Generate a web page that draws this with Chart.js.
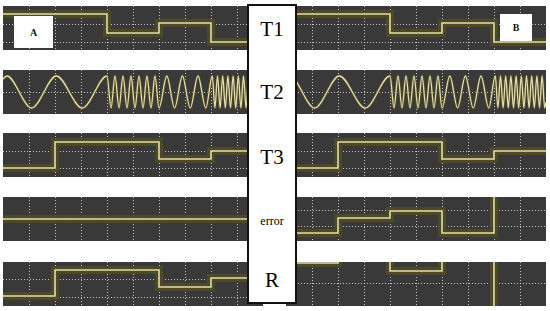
<!DOCTYPE html>
<html>
<head>
<meta charset="utf-8">
<script src="https://cdn.jsdelivr.net/npm/chart.js@4.4.1/dist/chart.umd.min.js"></script>
<style>
  body { margin:0; background:#fff; }
  #wrap { position:relative; width:550px; height:311px; overflow:hidden; }
  .panel { position:absolute; }
  .lab { position:absolute; left:247px; top:4px; width:46px; height:296px; background:#fff; border:2px solid #111; z-index:5; }
  .lab div { position:absolute; width:100%; text-align:center; font-family:"Liberation Serif", serif; color:#000; }
  .tag { position:absolute; background:#fff; z-index:5; font-family:"Liberation Serif", serif; font-weight:bold; font-size:10px; color:#111; display:flex; align-items:center; justify-content:center; }
</style>
</head>
<body>
<div id="wrap">
  <div class="lab">
    <div style="top:11px;font-size:21px">T1</div>
    <div style="top:74px;font-size:21px">T2</div>
    <div style="top:139px;font-size:21px">T3</div>
    <div style="top:208px;font-size:12px">error</div>
    <div style="top:262px;font-size:21px">R</div>
  </div>
  <div class="tag" style="left:14px;top:16px;width:39px;height:32px">A</div>
  <div class="tag" style="left:500px;top:14px;width:32px;height:27px">B</div>
</div>
<script>
// time axis: 10 divisions per screen
// step traces: edges (divisions) and levels (0 = bottom of strip, 44 = top)
const t1Edges = [0, 4, 6, 8, 10];
const t1Levels = [36, 17, 27, 8];

const t3Edges = [0, 2, 6, 8, 10];
const t3Levels = [9, 35, 18, 26];

const errAEdges = [0, 10];
const errALevels = [22];
const errBEdges = [0, 2, 4, 6, 8, 10];
const errBLevels = [8, 23, 30, 8, 60];

const rAEdges = [0, 2, 6, 8, 10];
const rALevels = [10, 36, 19, 28];
const rBEdges = [0, 2, 4, 6, 8, 10];
const rBLevels = [43, 60, 35, 60, -20];

// T2 sine: start value, then turning points (peak / trough alternating)
const t2Start = 35;
const t2Peak = 38;
const t2Trough = 6;
const t2TurnX = [0.15, 1.1, 2.05, 3.05, 4.0,
  4.154, 4.308, 4.462, 4.615, 4.769, 4.923, 5.077, 5.231, 5.385, 5.538, 5.692, 5.846, 6.0,
  6.3, 6.6, 6.9, 7.2, 7.5, 7.8,
  8.05, 8.15, 8.25, 8.35, 8.45, 8.55, 8.65, 8.75, 8.85, 8.95, 9.05, 9.15, 9.25, 9.35, 9.45, 9.55, 9.65, 9.75, 9.85, 9.95];
const t2End = 10;

// dotted horizontal graticule values per strip
const gridA = [[26, 8], [22], [26, 9], [22], [27, 9]];
const gridB = [[26, 8], [22], [26, 9], [30.5, 14.5], [23]];

const rowTops = [6, 70, 133, 197, 262];
const rowH = 44;
const sideX = [3, 286];
const sideW = 260;

const traceColor = '#e2dbb0';
const ghostColor = 'rgba(78,74,36,0.95)';

function stepPoints(edges, levels) {
  const pts = [];
  levels.forEach((v, i) => pts.push({ x: edges[i], y: v }));
  pts.push({ x: edges[edges.length - 1], y: levels[levels.length - 1] });
  return pts;
}

function sinePoints() {
  const pts = [{ x: 0, y: t2Start }];
  t2TurnX.forEach((x, i) => pts.push({ x: x, y: i % 2 === 0 ? t2Peak : t2Trough }));
  pts.push({ x: t2End, y: t2Trough + 6 });
  return pts;
}

const bgPlugin = {
  id: 'screen',
  beforeDraw(chart) {
    const c = chart.ctx;
    c.save();
    c.fillStyle = '#393939';
    c.fillRect(0, 0, chart.width, chart.height);
    c.restore();
  }
};

function makePanel(left, top, pts, grid, smooth) {
  const box = document.createElement('div');
  box.className = 'panel';
  box.style.left = left + 'px';
  box.style.top = top + 'px';
  const cv = document.createElement('canvas');
  cv.width = sideW; cv.height = rowH;
  cv.style.width = sideW + 'px'; cv.style.height = rowH + 'px';
  box.appendChild(cv);
  document.getElementById('wrap').appendChild(box);

  const common = {
    data: pts, pointRadius: 0, fill: false,
    stepped: smooth ? false : 'before',
    cubicInterpolationMode: smooth ? 'monotone' : 'default'
  };
  new Chart(cv, {
    type: 'line',
    data: {
      datasets: [
        Object.assign({}, common, { borderColor: traceColor, borderWidth: smooth ? 1.3 : 1.6, order: 0 }),
        Object.assign({}, common, { borderColor: ghostColor, borderWidth: smooth ? 3 : 8, order: 1 })
      ]
    },
    options: {
      responsive: false, animation: false, events: [],
      layout: { padding: 0 },
      plugins: { legend: { display: false }, tooltip: { enabled: false } },
      scales: {
        x: {
          type: 'linear', min: 0, max: 10,
          afterBuildTicks: s => { s.ticks = [1, 2, 3, 4, 5, 6, 7, 8, 9].map(v => ({ value: v })); },
          ticks: { display: false },
          grid: { color: 'rgba(220,220,220,0.85)', drawTicks: false, lineWidth: 1 },
          border: { display: false, dash: [1, 2] }
        },
        y: {
          min: 0, max: rowH,
          afterBuildTicks: s => { s.ticks = grid.map(v => ({ value: v })); },
          ticks: { display: false },
          grid: { color: 'rgba(220,220,220,0.85)', drawTicks: false, lineWidth: 1 },
          border: { display: false, dash: [1, 2] }
        }
      }
    },
    plugins: [bgPlugin]
  });
}

const traceA = [stepPoints(t1Edges, t1Levels), sinePoints(), stepPoints(t3Edges, t3Levels),
  stepPoints(errAEdges, errALevels), stepPoints(rAEdges, rALevels)];
const traceB = [stepPoints(t1Edges, t1Levels), sinePoints(), stepPoints(t3Edges, t3Levels),
  stepPoints(errBEdges, errBLevels), stepPoints(rBEdges, rBLevels)];

rowTops.forEach((top, r) => {
  makePanel(sideX[0], top, traceA[r], gridA[r], r === 1);
  makePanel(sideX[1], top, traceB[r], gridB[r], r === 1);
});
</script>
</body>
</html>
